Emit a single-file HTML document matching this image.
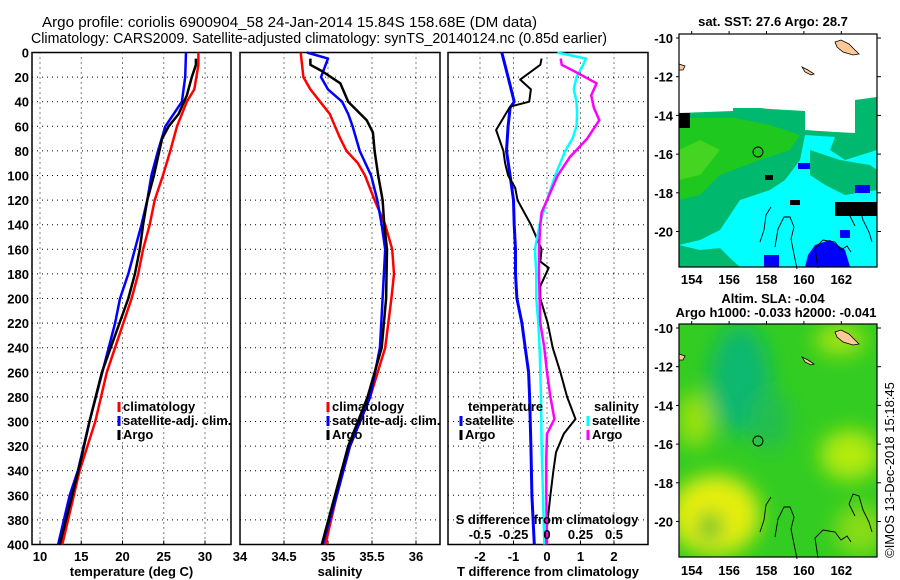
<!DOCTYPE html>
<html><head><meta charset="utf-8"><style>
html,body{margin:0;padding:0;background:#fff;}
svg{display:block;font-family:"Liberation Sans",sans-serif;}
.t{font-size:13px;font-weight:bold;fill:#000;}
</style></head><body>
<svg id="fig" width="900" height="580" viewBox="0 0 900 580" xmlns="http://www.w3.org/2000/svg">
<text x="42" y="27" font-size="15" textLength="495" lengthAdjust="spacingAndGlyphs">Argo profile: coriolis 6900904_58 24-Jan-2014 15.84S 158.68E (DM data)</text>
<text x="31" y="43" font-size="15" textLength="576" lengthAdjust="spacingAndGlyphs">Climatology: CARS2009. Satellite-adjusted climatology: synTS_20140124.nc (0.85d earlier)</text>
<g id="panels"></g>
<g id="maps"></g>
</svg>
<script>
// ---------- data ----------
const depthTicks = [0,20,40,60,80,100,120,140,160,180,200,220,240,260,280,300,320,340,360,380,400];
const tempTicks = [10,15,20,25,30];
const salTicks = ["34","34.5","35","35.5","36"];
const tdiffTicks = [-2,-1,0,1,2];
const sdiffTicks = ["-0.5","-0.25","0","0.25","0.5"];

const tClimDepth = [0,10,30,40,60,80,100,120,140,160,180,200,260,300,340,400];
const tClimVal   = [29.2,29.2,28.7,27.8,26.6,25.8,24.9,23.9,23.3,22.5,21.9,21.1,18.1,16.7,14.8,12.7];
const tSatDepth  = [0,20,40,60,80,100,120,140,160,180,200,220,300,340,360,400];
const tSatVal    = [27.7,27.6,27.2,25.2,24.3,23.5,23.0,22.3,21.5,20.7,19.7,19.1,16.0,14.6,13.6,12.2];
const tArgoDepth = [5,10,20,35,50,60,70,100,120,140,160,180,200,260,300,330,360,400];
const tArgoVal   = [28.9,28.9,28.4,27.8,26.8,25.6,24.8,23.8,23.0,22.5,22.1,21.5,20.7,17.5,16.0,15.0,13.9,12.4];

const sClimDepth = [0,20,30,40,50,60,70,80,90,100,120,140,160,180,200,240,280,320,360,400];
const sClimVal   = [34.69,34.72,34.8,34.91,35.02,35.08,35.14,35.21,35.34,35.42,35.53,35.65,35.73,35.75,35.72,35.65,35.48,35.25,35.1,34.97];
const sSatDepth  = [0,5,20,30,40,50,60,80,100,120,140,160,200,240,280,320,360,400];
const sSatVal    = [34.76,35.0,34.92,35.0,35.16,35.23,35.28,35.36,35.49,35.56,35.61,35.65,35.62,35.59,35.48,35.25,35.1,34.94];
const sArgoDepth = [5,10,15,25,40,55,65,80,100,120,140,160,200,240,280,320,360,400];
const sArgoVal   = [34.8,34.8,34.93,35.14,35.23,35.44,35.51,35.53,35.57,35.62,35.64,35.67,35.66,35.61,35.45,35.23,35.08,34.93];

const dTSatDepth  = [0,20,40,45,60,80,100,120,140,160,180,200,220,240,260,280,320,360,400];
const dTSatVal    = [-1.35,-1.16,-0.98,-1.1,-1.16,-1.21,-1.1,-1.0,-0.98,-0.94,-0.94,-0.9,-0.75,-0.65,-0.55,-0.52,-0.48,-0.45,-0.38];
const dTArgoDepth = [5,10,22,30,40,44,63,80,90,100,110,120,140,160,170,175,190,200,220,240,260,280,298,310,325,340,360,380,400];
const dTArgoVal   = [-0.16,-0.2,-0.8,-0.48,-0.53,-1.1,-1.52,-1.3,-1.25,-1.16,-0.95,-0.88,-0.48,-0.16,-0.2,0.05,-0.2,-0.2,0.02,0.17,0.4,0.6,0.85,0.5,0.27,0.19,0.1,0.02,-0.05];
const dSSatDepth  = [0,5,10,20,30,40,50,60,70,80,100,120,140,160,180,200,220,240,280,320,360,400];
const dSSatVal    = [0.077,0.29,0.27,0.22,0.2,0.22,0.225,0.22,0.19,0.136,0.061,0.0,-0.055,-0.09,-0.08,-0.08,-0.065,-0.055,-0.045,-0.04,-0.03,-0.02];
const dSArgoDepth = [5,10,15,25,35,45,55,70,85,100,120,130,140,160,180,200,220,240,260,280,298,310,330,360,400];
const dSArgoVal   = [0.102,0.11,0.2,0.37,0.33,0.35,0.39,0.3,0.17,0.08,0.0,-0.04,-0.05,-0.06,-0.06,-0.055,-0.05,-0.02,0.0,0.025,0.055,0.0,-0.005,-0.005,0.0];

const latTicks = [-10,-12,-14,-16,-18,-20];
const lonTicks = [154,156,158,160,162];

// ---------- helpers ----------
const NS = "http://www.w3.org/2000/svg";
function mk(tag, attrs, parent){ const e=document.createElementNS(NS,tag); for(const k in attrs) e.setAttribute(k,attrs[k]); parent.appendChild(e); return e; }
const yTop=52.5, yBot=544.5;
function yD(d){ return yTop + d*(yBot-yTop)/400; }
const panelsG=document.getElementById('panels');

function panel(name, x0, x1, xTicksVals, xTickLabels, xf, title, gridXs){
  const g=mk('g',{},panelsG);
  
  
  depthTicks.forEach(d=>{ if(d>0&&d<400){ const l=mk('line',{x1:x0,x2:x1,y1:yD(d),y2:yD(d),stroke:'#000','stroke-width':1,'stroke-dasharray':'1,4'},g);
      }});
  gridXs.forEach(v=>{ const x=xf(v); const l=mk('line',{x1:x,x2:x,y1:yTop,y2:yBot,stroke:'#000','stroke-width':1,'stroke-dasharray':'1,4'},g);
      });
  const r=mk('rect',{x:x0,y:yTop,width:x1-x0,height:yBot-yTop,fill:'none',stroke:'#000','stroke-width':1.5},g);
   
  xTicksVals.forEach((v,i)=>{ const x=xf(v);
    mk('line',{x1:x,x2:x,y1:yBot,y2:yBot-4,stroke:'#000'},g);
    const t=mk('text',{x:x,y:561,'text-anchor':'middle',class:'t'},g); t.textContent=xTickLabels[i];
      });
  if(title){ const t=mk('text',{x:(x0+x1)/2,y:576,'text-anchor':'middle',class:'t'},g); t.textContent=title;
      }
  return g;
}
function series(g, name, depths, vals, xf, color, w){
  const pts=depths.map((d,i)=>xf(vals[i]).toFixed(1)+','+yD(d).toFixed(1)).join(' ');
  const p=mk('polyline',{points:pts,fill:'none',stroke:color,'stroke-width':w||2.5,'stroke-linejoin':'round'},g);
  
  
}
function legend(g, x, y, color, label, name){
  mk('line',{x1:x,x2:x,y1:y-9,y2:y+1,stroke:color,'stroke-width':3},g);
  const t=mk('text',{x:x+4,y:y,class:'t'},g); t.textContent=label;
  
  
}

depthTicks.forEach(d=>{ const t=mk('text',{x:29,y:yD(d)+5,'text-anchor':'end',class:'t'},panelsG); t.textContent=d;
    });

const xT=v=>40+(v-10)*8.25;
const p1=panel('temperature-panel',32,231,tempTicks,tempTicks.map(String),xT,'temperature (deg C)',tempTicks);
series(p1,'temperature-climatology-line',tClimDepth,tClimVal,xT,'#ff0000');
series(p1,'temperature-satellite-line',tSatDepth,tSatVal,xT,'#0000ff');
series(p1,'temperature-argo-line',tArgoDepth,tArgoVal,xT,'#000000');
legend(p1,119,411,'#ff0000','climatology','legend-climatology');
legend(p1,119,425,'#0000ff','satellite-adj. clim.','legend-satellite-adj');
legend(p1,119,439,'#000000','Argo','legend-argo');

const xS=v=>240+(v-34)*88;
const salNums=salTicks.map(Number);
const p2=panel('salinity-panel',240,440,salNums,salTicks,xS,'salinity',salNums);
series(p2,'salinity-climatology-line',sClimDepth,sClimVal,xS,'#ff0000');
series(p2,'salinity-satellite-line',sSatDepth,sSatVal,xS,'#0000ff');
series(p2,'salinity-argo-line',sArgoDepth,sArgoVal,xS,'#000000');
legend(p2,328,411,'#ff0000','climatology','legend-climatology');
legend(p2,328,425,'#0000ff','satellite-adj. clim.','legend-satellite-adj');
legend(p2,328,439,'#000000','Argo','legend-argo');

const xdT=v=>547+v*33.5;
const xdS=v=>547+v*134;
const p3=panel('difference-panel',448,648,tdiffTicks,tdiffTicks.map(String),xdT,'T difference from climatology',tdiffTicks);
series(p3,'dT-satellite-line',dTSatDepth,dTSatVal,xdT,'#0000ff',3);
series(p3,'dT-argo-line',dTArgoDepth,dTArgoVal,xdT,'#000000',2);
series(p3,'dS-satellite-line',dSSatDepth,dSSatVal,xdS,'#00ffff',2.5);
series(p3,'dS-argo-line',dSArgoDepth,dSArgoVal,xdS,'#ff00ff',2.5);
{ const t=mk('text',{x:468,y:411,class:'t'},p3); t.textContent='temperature';
   
  const t2=mk('text',{x:594,y:411,class:'t'},p3); t2.textContent='salinity';
    }
legend(p3,461,425,'#0000ff','satellite','legend-t-satellite');
legend(p3,461,439,'#000000','Argo','legend-t-argo');
legend(p3,588,425,'#00ffff','satellite','legend-s-satellite');
legend(p3,588,439,'#ff00ff','Argo','legend-s-argo');
{ const t=mk('text',{x:547,y:524,'text-anchor':'middle',class:'t'},p3); t.textContent='S difference from climatology';
   
  sdiffTicks.forEach(s=>{ const tt=mk('text',{x:xdS(Number(s)),y:539,'text-anchor':'middle',class:'t'},p3); tt.textContent=s;
      }); }

// ---------- maps ----------
const mapsG=document.getElementById('maps');
const mx0=679,mx1=877;
const lonX=v=>691.7+(v-154)*18.7;
function mapFrame(name){
  const g=mk('g',{},mapsG);
  
  
  return g;
}
function mapAxes(g,y0,y1,latY,lonLabelY){
  mk('rect',{x:mx0,y:y0,width:mx1-mx0,height:y1-y0,fill:'none',stroke:'#000','stroke-width':1.2},g);
  latTicks.forEach(v=>{ const y=latY(v);
    mk('line',{x1:mx1,x2:mx1+4,y1:y,y2:y,stroke:'#000'},g);
    mk('line',{x1:mx0,x2:mx0-3,y1:y,y2:y,stroke:'#000'},g);
    const t=mk('text',{x:673,y:y+5,'text-anchor':'end',class:'t'},g); t.textContent=v;
      });
  lonTicks.forEach(v=>{ const x=lonX(v);
    mk('line',{x1:x,x2:x,y1:y0,y2:y0-3,stroke:'#000'},g);
    const t=mk('text',{x:x,y:lonLabelY,'text-anchor':'middle',class:'t'},g); t.textContent=v;
      });
}
function land(g,dy){
  mk('path',{d:`M835 ${42+dy} l6 -2 l8 4 l6 6 l4 4 l-6 1 l-10 -3 l-6 -5z`,fill:'#ffc896',stroke:'#000','stroke-width':0.8},g);
  mk('path',{d:`M802 ${67+dy} l6 3 l6 4 l-3 1 l-6 -3z`,fill:'#ffc896',stroke:'#000','stroke-width':0.8},g);
  mk('path',{d:`M679 ${64+dy} l6 2 l-2 4 l-4 0z`,fill:'#ffc896',stroke:'#000','stroke-width':0.8},g);
  mk('path',{d:`M775 ${247+dy} l3 -18 l6 -12 l6 0 l4 10 l-3 12 l4 20 l2 10 M760 ${242+dy} l4 -12 l2 -15 l5 -8 M818 ${268+dy} l-3 -20 l8 -8 l12 2 l6 8 l6 -4 l4 6 M855 ${226+dy} l-6 -12 l4 -10 l6 2 l4 14 l6 12 l3 10`,fill:'none',stroke:'#000','stroke-width':0.9},g);
}
{
  const g=mapFrame('sst-map');
  mk('rect',{x:mx0,y:34,width:198,height:233,fill:'#fff'},g);
  mk('path',{d:'M679 113 L733 111 L733 108 L760 108 L770 109 L805 111 L805 130 L835 132 L855 133 L855 100 L877 97 L877 267 L679 267Z',fill:'#00b86e'},g);
  mk('path',{d:'M679 118 L735 118 L770 125 L800 135 L790 150 L760 160 L720 175 L700 195 L679 200Z',fill:'#1ec81e'},g);
  mk('path',{d:'M679 150 L700 140 L720 150 L700 175 L679 180Z',fill:'#44d422'},g);
  mk('path',{d:'M679 267 L679 245 L700 240 L720 230 L740 200 L770 190 L785 180 L800 160 L805 135 L835 137 L830 150 L845 160 L877 150 L877 267Z',fill:'#00ffff'},g);
  mk('path',{d:'M679 267 L679 245 L700 250 L720 248 L730 258 L740 267Z',fill:'#00b86e'},g);
  mk('path',{d:'M810 150 L840 160 L870 165 L877 170 L877 190 L845 195 L825 185 L810 175Z',fill:'#00b86e'},g);
  mk('path',{d:'M815 245 L830 240 L845 250 L850 267 L805 267 L808 255Z',fill:'#0000ff'},g);
  mk('rect',{x:835,y:202,width:42,height:14,fill:'#000'},g);
  mk('rect',{x:679,y:113,width:11,height:15,fill:'#000'},g);
  mk('rect',{x:798,y:163,width:12,height:6,fill:'#0000ff'},g);
  mk('rect',{x:765,y:175,width:8,height:5,fill:'#000'},g);
  mk('rect',{x:790,y:200,width:10,height:5,fill:'#000'},g);
  mk('rect',{x:764,y:255,width:15,height:12,fill:'#0000ff'},g);
  mk('rect',{x:840,y:230,width:10,height:8,fill:'#0000ff'},g);
  mk('rect',{x:855,y:185,width:15,height:8,fill:'#0000ff'},g);
  land(g,0);
  const c=mk('circle',{cx:758,cy:152,r:5,fill:'none',stroke:'#000','stroke-width':1},g);
   
  mapAxes(g,34,267,v=>38+(-10-v)*19.35,284);
  const t=mk('text',{x:773,y:26,'text-anchor':'middle',class:'t'},g); t.textContent='sat. SST: 27.6 Argo: 28.7';
   
}
{
  const g=mapFrame('sla-map');
  const defs=mk('defs',{},g);
  const f=mk('filter',{id:'blur',x:'-50%',y:'-50%',width:'200%',height:'200%'},defs);
  mk('feGaussianBlur',{stdDeviation:10},f);
  const cp=mk('clipPath',{id:'clip2'},defs);
  mk('rect',{x:mx0,y:324,width:198,height:233},cp);
  const inner=mk('g',{'clip-path':'url(#clip2)'},g);
  mk('rect',{x:mx0,y:324,width:198,height:233,fill:'#33cc22'},inner);
  const bl=mk('g',{filter:'url(#blur)'},inner);
  mk('ellipse',{cx:740,cy:380,rx:30,ry:55,fill:'#10b870'},bl);
  mk('ellipse',{cx:770,cy:420,rx:20,ry:30,fill:'#22be50'},bl);
  mk('ellipse',{cx:715,cy:515,rx:45,ry:40,fill:'#e6ee10'},bl);
  mk('ellipse',{cx:695,cy:420,rx:18,ry:28,fill:'#99e010'},bl);
  mk('ellipse',{cx:850,cy:455,rx:30,ry:25,fill:'#b4ea10'},bl);
  mk('ellipse',{cx:840,cy:340,rx:25,ry:15,fill:'#a8e410'},bl);
  mk('ellipse',{cx:860,cy:530,rx:25,ry:25,fill:'#88dc18'},bl);
  mk('ellipse',{cx:710,cy:527,rx:12,ry:14,fill:'#22bb33'},bl);
  land(g,290);
  const c=mk('circle',{cx:758,cy:441,r:5,fill:'none',stroke:'#000','stroke-width':1},g);
   
  mapAxes(g,324,557,v=>328+(-10-v)*19.35,575);
  const t=mk('text',{x:773,y:303,'text-anchor':'middle',class:'t'},g); t.textContent='Altim. SLA: -0.04';
   
  const t2=mk('text',{x:776,y:317,'text-anchor':'middle',class:'t'},g); t2.textContent='Argo h1000: -0.033 h2000: -0.041';
   
  const t3=mk('text',{x:0,y:0,'font-size':'13',transform:'translate(894,470) rotate(-90)','text-anchor':'middle'},g); t3.textContent='©IMOS 13-Dec-2018 15:18:45';
   
}
</script>
</body></html>
